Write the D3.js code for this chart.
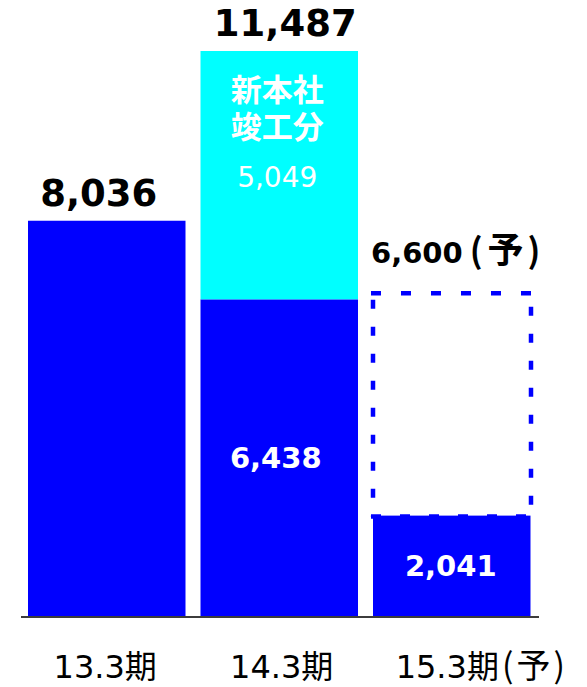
<!DOCTYPE html>
<html><head><meta charset="utf-8">
<script src="https://cdn.jsdelivr.net/npm/d3@7"></script>
<style>body{margin:0;background:#fff}svg{display:block}</style>
</head><body>
<script>
const categories = ["13.3期", "14.3期", "15.3期(予)"];
const baseValues = [8036, 6438, 2041];
const addValues = [0, 5049, 0];
const totalLabels = ["8,036", "11,487", null];
const forecastTotal = 6600;
const forecastLabel = ["6,600", "(", "予", ")"];
const addNote = ["新本社", "竣工分"];

const W = 587, H = 687;
const svg = d3.select("body").append("svg").attr("width", W).attr("height", H);
const FONT = "'DejaVu Sans','Noto Sans CJK JP',sans-serif";
const CJK = "'Noto Sans CJK JP',sans-serif";

const x = d3.scaleBand().domain(categories).range([20.5, 538]).paddingInner(0.087).paddingOuter(0.0435);
const y = d3.scaleLinear().domain([0, 11487]).range([616, 51]);
const bw = x.bandwidth();

// dashed forecast box
const fx0 = x(categories[2]), fx1 = fx0 + bw + 0.5;
const fyTop = y(forecastTotal) + 2, fyBot = y(baseValues[2]) + 1;
const dash = svg.append("g").attr("stroke", "#0000FF").attr("stroke-width", 4.5).attr("fill", "none");
dash.append("line").attr("x1", fx0 - 2).attr("x2", fx1 + 2).attr("y1", fyTop).attr("y2", fyTop).attr("stroke-dasharray", "10,20");
dash.append("line").attr("x1", fx0).attr("x2", fx0).attr("y1", fyTop + 6.5).attr("y2", fyBot).attr("stroke-dasharray", "9,18");
dash.append("line").attr("x1", fx1).attr("x2", fx1).attr("y1", fyTop + 13.5).attr("y2", fyBot).attr("stroke-dasharray", "9,18");
dash.append("line").attr("x1", fx0 - 2).attr("x2", fx1 + 2).attr("y1", fyBot).attr("y2", fyBot).attr("stroke-dasharray", "10,19");

// base bars
svg.selectAll("rect.base").data(categories).join("rect").attr("class", "base")
  .attr("x", d => x(d)).attr("width", bw)
  .attr("y", (d, i) => y(baseValues[i])).attr("height", (d, i) => y(0) - y(baseValues[i]))
  .attr("fill", "#0000FF");
// added bars
svg.selectAll("rect.add").data(categories.filter((d, i) => addValues[i] > 0)).join("rect").attr("class", "add")
  .attr("x", d => x(d)).attr("width", bw)
  .attr("y", d => { const i = categories.indexOf(d); return y(baseValues[i] + addValues[i]); })
  .attr("height", d => { const i = categories.indexOf(d); return y(baseValues[i]) - y(baseValues[i] + addValues[i]); })
  .attr("fill", "#00FFFF");

// axis line
svg.append("line").attr("x1", 21).attr("x2", 539).attr("y1", 617).attr("y2", 617).attr("stroke", "#3c3c3c").attr("stroke-width", 2);

// category labels
const catDx = [-1.5, 2.5, 30];
svg.selectAll("text.cat").data(categories).join("text").attr("class", "cat")
  .attr("x", (d, i) => x(d) + bw / 2 + catDx[i]).attr("y", 678)
  .attr("text-anchor", "middle").attr("font-family", FONT).attr("font-size", 32).attr("fill", "#000")
  .each(function (d) {
    const t = d3.select(this);
    const m = d.match(/^([^(]*)(\(.*\))?$/);
    t.append("tspan").text(m[1]);
    if (m[2]) t.append("tspan").attr("font-family", CJK).attr("font-size", 34).attr("dx", 3).attr("letter-spacing", 3).text(m[2]);
  });

// totals
const totDx = [-8, 6];
categories.forEach((c, i) => {
  if (!totalLabels[i]) return;
  svg.append("text").attr("x", x(c) + bw / 2 + totDx[i]).attr("y", y(baseValues[i] + addValues[i]) - 15)
    .attr("text-anchor", "middle").attr("font-family", FONT).attr("font-weight", "bold").attr("font-size", 37)
    .attr("fill", "#000").text(totalLabels[i]);
});
const fl = svg.append("text").attr("x", fx0 - 2).attr("y", y(forecastTotal) - 28)
  .attr("font-family", FONT).attr("font-weight", "bold").attr("font-size", 29).attr("fill", "#000");
fl.append("tspan").text(forecastLabel[0]);
fl.append("tspan").attr("dx", 7).attr("font-family", CJK).attr("font-size", 34).text(forecastLabel[1]);
fl.append("tspan").attr("dx", 5).attr("font-family", CJK).attr("font-size", 36).text(forecastLabel[2]);
fl.append("tspan").attr("dx", 4).attr("font-family", CJK).attr("font-size", 34).text(forecastLabel[3]);

// inner white labels
[1, 2].forEach(i => {
  const v = baseValues[i];
  const cy = (y(0) + y(v)) / 2;
  svg.append("text").attr("x", x(categories[i]) + bw / 2 - (i === 1 ? 3.5 : 1)).attr("y", cy + 10)
    .attr("text-anchor", "middle").attr("font-family", FONT).attr("font-weight", "bold").attr("font-size", 29)
    .attr("fill", "#fff").text(d3.format(",")(v));
});
const c1 = x(categories[1]) + bw / 2;
svg.append("text").attr("x", c1 - 2).attr("y", 187).attr("text-anchor", "middle").attr("font-family", FONT)
  .attr("font-size", 28).attr("fill", "#fff").text(d3.format(",")(addValues[1]));
const note = svg.append("text").attr("text-anchor", "middle").attr("font-family", CJK).attr("font-weight", "bold")
  .attr("font-size", 31).attr("fill", "#fff");
addNote.forEach((t, k) => {
  note.append("tspan").attr("x", c1 - 2).attr("y", 101 + k * 37).text(t);
});
</script>
</body></html>
